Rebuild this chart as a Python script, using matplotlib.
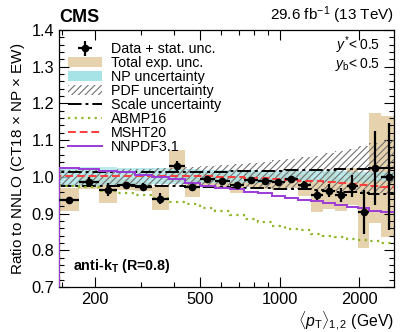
import numpy as np
import matplotlib
matplotlib.use("Agg")
import matplotlib.pyplot as plt
from matplotlib.patches import Patch
from matplotlib.lines import Line2D
from matplotlib.ticker import FixedLocator, NullFormatter, MultipleLocator

plt.rcParams["font.family"] = ["Liberation Sans", "DejaVu Sans"]
plt.rcParams["mathtext.fontset"] = "custom"
plt.rcParams["mathtext.rm"] = "Liberation Sans"
plt.rcParams["mathtext.it"] = "Liberation Sans:italic"
plt.rcParams["mathtext.bf"] = "Liberation Sans:bold"
plt.rcParams["hatch.linewidth"] = 0.8

# ---------------------------------------------------------
# Data
# ---------------------------------------------------------
edges = np.array([147, 175, 207, 243, 284, 329, 380, 437, 499, 569, 646, 732,
                  827, 931, 1046, 1171, 1307, 1455, 1616, 1790, 1978, 2181,
                  2402, 2787])

data = [0.938, 0.986, 0.965, 0.979, 0.973, 0.941, 1.030, 0.973, 0.994, 0.989,
        0.978, 0.992, 0.988, 0.986, 0.994, 0.978, 0.950, 0.962, 0.951, 0.974,
        0.905, 1.024, 1.001]
stat = [0.004, 0.013, 0.018, 0.008, 0.010, 0.014, 0.013, 0.006, 0.005, 0.006,
        0.006, 0.006, 0.006, 0.006, 0.006, 0.010, 0.013, 0.018, 0.020, 0.030,
        0.060, 0.100, 0.145]
total_exp = [0.031, 0.020, 0.036, 0.015, 0.012, 0.032, 0.043, 0.027, 0.020, 0.020,
             0.022, 0.020, 0.020, 0.022, 0.025, 0.030, 0.045, 0.050, 0.045, 0.050,
             0.100, 0.150, 0.165]

np_up = [1.028, 1.027, 1.026, 1.025, 1.024, 1.023, 1.022, 1.021, 1.020, 1.019,
         1.018, 1.018, 1.017, 1.017, 1.016, 1.016, 1.015, 1.015, 1.015, 1.014,
         1.014, 1.014, 1.014]
np_dn = [0.975, 0.976, 0.977, 0.978, 0.979, 0.980, 0.981, 0.981, 0.982, 0.983,
         0.983, 0.984, 0.984, 0.985, 0.985, 0.986, 0.986, 0.986, 0.987, 0.987,
         0.987, 0.988, 0.988]

pdf_up = [1.018, 1.019, 1.020, 1.021, 1.022, 1.023, 1.025, 1.027, 1.029, 1.032,
          1.035, 1.038, 1.041, 1.045, 1.049, 1.053, 1.058, 1.064, 1.070, 1.076,
          1.083, 1.091, 1.100]
pdf_dn = [0.977, 0.977, 0.977, 0.976, 0.976, 0.975, 0.975, 0.974, 0.973, 0.972,
          0.971, 0.970, 0.969, 0.968, 0.967, 0.966, 0.965, 0.963, 0.961, 0.959,
          0.957, 0.955, 0.953]

scale_up = [1.012, 1.012, 1.012, 1.012, 1.013, 1.013, 1.013, 1.013, 1.014, 1.014,
            1.015, 1.015, 1.016, 1.017, 1.018, 1.019, 1.019, 1.020, 1.021, 1.022,
            1.022, 1.023, 1.024]
scale_dn = [0.976, 0.976, 0.975, 0.975, 0.975, 0.974, 0.974, 0.973, 0.973, 0.972,
            0.971, 0.970, 0.969, 0.968, 0.967, 0.966, 0.964, 0.962, 0.960, 0.958,
            0.956, 0.954, 0.952]

abmp16 = [0.976, 0.973, 0.962, 0.957, 0.951, 0.942, 0.932, 0.926, 0.915, 0.906,
          0.895, 0.886, 0.876, 0.866, 0.858, 0.855, 0.845, 0.840, 0.836, 0.831,
          0.828, 0.826, 0.821]
msht20 = [1.003, 1.003, 1.003, 1.003, 1.003, 1.003, 1.003, 1.003, 1.002, 1.000,
          0.999, 0.998, 0.996, 0.994, 0.992, 0.990, 0.988, 0.986, 0.984, 0.981,
          0.979, 0.976, 0.973]
nnpdf31 = [1.024, 1.021, 1.017, 1.013, 1.006, 1.000, 0.993, 0.983, 0.976, 0.971,
           0.966, 0.960, 0.955, 0.948, 0.942, 0.937, 0.935, 0.928, 0.923, 0.917,
           0.915, 0.908, 0.905]

tan = "#e6d3ad"
cyan = "#a6e3e6"
green = "#8fb52a"
red = "#ff3b3b"
purple = "#9b3bd9"

# ---------------------------------------------------------
# Plot
# ---------------------------------------------------------
fig = plt.figure(figsize=(4.07, 3.32), dpi=100)
ax = fig.add_axes([0.1457, 0.1355, 0.8223, 0.7741])

data = np.array(data)
stat = np.array(stat)
total_exp = np.array(total_exp)
lo, hi = edges[:-1], edges[1:]
centers = np.sqrt(lo * hi)

# total experimental uncertainty boxes
ax.bar(lo, 2 * total_exp, bottom=data - total_exp, width=hi - lo, align="edge",
       color=tan, linewidth=0, zorder=1)


def step(vals):
    return np.append(vals, vals[-1])


# NP band
ax.fill_between(edges, step(np_dn), step(np_up), step="post", color=cyan,
                alpha=0.75, linewidth=0, zorder=2)
# PDF band (hatched)
ax.fill_between(edges, step(pdf_dn), step(pdf_up), step="post", facecolor="none",
                edgecolor="#707070", hatch="/////", linewidth=0, zorder=3)

# scale uncertainty
dashdot = (0, (7, 2, 1.5, 2))
ax.stairs(scale_up, edges, color="black", linestyle=dashdot, linewidth=1.4, zorder=4)
ax.stairs(scale_dn, edges, color="black", linestyle=dashdot, linewidth=1.4, zorder=4)

# alternative PDFs
ax.stairs(abmp16, edges, color=green, linestyle=(0, (1, 2)), linewidth=1.6, zorder=4)
ax.stairs(msht20, edges, color=red, linestyle=(0, (4, 2)), linewidth=1.4, zorder=5)
ax.stairs(nnpdf31, edges, color=purple, linestyle="-", linewidth=1.4, zorder=5)

# data
ax.errorbar(centers, data, yerr=stat, xerr=[centers - lo, hi - centers],
            fmt="o", color="black", markersize=4.5, elinewidth=1.6, capsize=0,
            zorder=6)

# axes
ax.set_xscale("log")
ax.set_xlim(147, 2700)
ax.set_ylim(0.7, 1.4)
ax.xaxis.set_major_locator(FixedLocator([200, 500, 1000, 2000]))
ax.set_xticklabels(["200", "500", "1000", "2000"])
ax.xaxis.set_minor_locator(FixedLocator([150, 300, 400, 600, 700, 800, 900,
                                         3000]))
ax.xaxis.set_minor_formatter(NullFormatter())
ax.yaxis.set_major_locator(MultipleLocator(0.1))
ax.yaxis.set_minor_locator(MultipleLocator(0.02))
ax.tick_params(which="both", direction="in", top=True, right=True,
               labelsize=11.8, width=0.8)
ax.tick_params(which="major", length=7)
ax.tick_params(which="minor", length=3.5)
for s in ax.spines.values():
    s.set_linewidth(0.9)

ax.set_ylabel(r"Ratio to NNLO (CT18 $\times$ NP $\times$ EW)", fontsize=11,
              labelpad=3)
ax.set_xlabel(r"$\langle p_{\mathrm{T}}\rangle_{1,2}$ (GeV)", fontsize=11.3,
              loc="right", labelpad=2)

fig.text(0.1457, 0.922, "CMS", fontsize=13, fontweight="bold", va="bottom")
fig.text(0.968, 0.922, r"29.6 fb$^{-1}$ (13 TeV)", fontsize=11, ha="right",
         va="bottom")
ax.text(0.958, 0.942, r"$y^{*}\!<0.5$", transform=ax.transAxes, ha="right",
        va="center", fontsize=10)
ax.text(0.958, 0.866, r"$y_{\mathrm{b}}\!<0.5$", transform=ax.transAxes,
        ha="right", va="center", fontsize=10)
ax.text(0.04, 0.08, r"anti-k$_{\mathbf{T}}$ (R=0.8)", transform=ax.transAxes,
        fontsize=10.3, fontweight="bold", va="center")

# legend
h_data = ax.errorbar([], [], yerr=[], xerr=[], fmt="o", color="black",
                     markersize=4.5, elinewidth=1.6)
handles = [
    h_data,
    Patch(facecolor=tan, edgecolor="none"),
    Patch(facecolor=cyan, edgecolor="none"),
    Patch(facecolor="none", edgecolor="#707070", hatch="/////", linewidth=0),
    Line2D([], [], color="black", linestyle=dashdot, linewidth=1.4),
    Line2D([], [], color=green, linestyle=(0, (1, 2)), linewidth=1.6),
    Line2D([], [], color=red, linestyle=(0, (4, 2)), linewidth=1.4),
    Line2D([], [], color=purple, linewidth=1.4),
]
labels = ["Data + stat. unc.", "Total exp. unc.", "NP uncertainty",
          "PDF uncertainty", "Scale uncertainty", "ABMP16", "MSHT20", "NNPDF3.1"]
ax.legend(handles, labels, loc="upper left", bbox_to_anchor=(0.0, 0.985),
          frameon=False, fontsize=10.3, handlelength=2.4, handleheight=0.7,
          labelspacing=0.0, handletextpad=0.6, borderaxespad=0.2)

fig.savefig("out.png", dpi=100)
